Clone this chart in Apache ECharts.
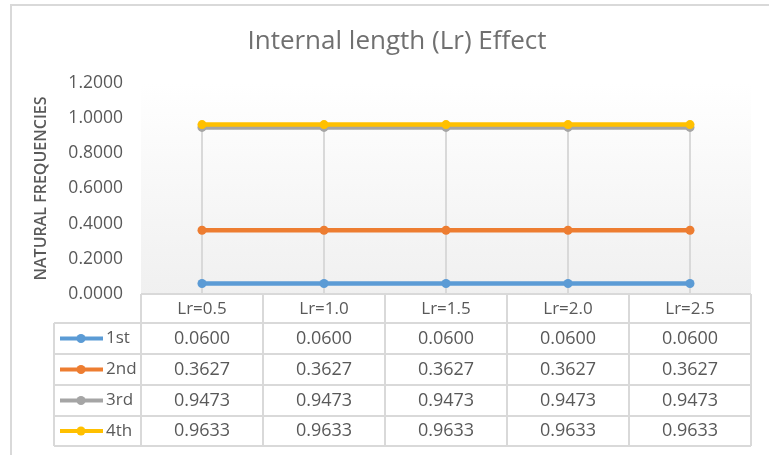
<!DOCTYPE html>
<html><head><meta charset="utf-8">
<script src="https://cdn.jsdelivr.net/npm/echarts@6/dist/echarts.min.js"></script>
<style>html,body{margin:0;padding:0;background:#fff}#c{width:769px;height:455px}</style>
</head><body><div id="c"></div>
<script>
const categories = ['Lr=0.5', 'Lr=1.0', 'Lr=1.5', 'Lr=2.0', 'Lr=2.5'];
const seriesNames = ['1st', '2nd', '3rd', '4th'];
const s1st = [0.0600, 0.0600, 0.0600, 0.0600, 0.0600];
const s2nd = [0.3627, 0.3627, 0.3627, 0.3627, 0.3627];
const s3rd = [0.9473, 0.9473, 0.9473, 0.9473, 0.9473];
const s4th = [0.9633, 0.9633, 0.9633, 0.9633, 0.9633];
const yMin = 0, yMax = 1.2, yStep = 0.2;
const titleText = 'Internal length (Lr) Effect';
const yName = 'NATURAL FREQUENCIES';

const allSeries = [s1st, s2nd, s3rd, s4th];
const colors = ['#5B9BD5', '#ED7D31', '#A5A5A5', '#FFC000'];
const txt = '#595959';
const gridCol = '#d9d9d9';
const FONT = 'Open Sans';
const dropTop = categories.map((c, i) => Math.max(...allSeries.map(s => s[i])));

const chart = echarts.init(document.getElementById('c'), null, {renderer: 'canvas'});
const option = {
  animation: false,
  backgroundColor: '#fff',
  title: {
    text: titleText, left: 392, top: 24, textAlign: 'center',
    textStyle: {fontFamily: FONT, fontSize: 26, fontWeight: 'normal', color: '#707070'}
  },
  grid: {
    left: 141, right: 18, top: 83, bottom: 161, show: true, borderWidth: 0,
    backgroundColor: new echarts.graphic.LinearGradient(0, 0, 0, 1, [
      {offset: 0, color: '#ffffff'}, {offset: 1, color: '#f0f0f0'}])
  },
  xAxis: {
    type: 'category', data: categories, boundaryGap: true,
    axisLine: {show: false}, axisTick: {show: false}, splitLine: {show: false},
    axisLabel: {margin: 15, verticalAlign: 'middle', fontFamily: FONT, fontSize: 17, color: txt}
  },
  yAxis: {
    type: 'value', min: yMin, max: yMax, interval: yStep,
    name: yName, nameLocation: 'middle', nameGap: 92, nameRotate: 90,
    nameTextStyle: {fontFamily: FONT, fontSize: 16, fontWeight: 600, color: txt},
    axisLine: {show: false}, axisTick: {show: false}, splitLine: {show: false},
    axisLabel: {margin: 18, fontFamily: FONT, fontSize: 17.5, color: txt,
      formatter: v => v.toFixed(4)}
  },
  series: [
    {type: 'bar', data: dropTop, barWidth: 2, silent: true, z: 1,
      itemStyle: {color: gridCol}}
  ].concat(allSeries.map((s, k) => ({
    type: 'line', name: seriesNames[k], data: s, z: 2 + k,
    symbol: 'circle', symbolSize: 9, showSymbol: true,
    lineStyle: {width: 4.5, color: colors[k]},
    itemStyle: {color: colors[k]}
  })))
};
chart.setOption(option);

// Data table
const x0 = chart.convertToPixel({xAxisIndex: 0}, 0);
const x1 = chart.convertToPixel({xAxisIndex: 0}, 1);
const band = x1 - x0;
const left = x0 - band / 2;
const right = left + band * categories.length;
const yTop = chart.convertToPixel({yAxisIndex: 0}, 0);
const rows = [yTop, yTop + 29, yTop + 60, yTop + 91, yTop + 122, yTop + 152];
const keyLeft = 54;
const g = [];
const line = (xa, ya, xb, yb) => g.push({type: 'line', shape: {x1: xa, y1: ya, x2: xb, y2: yb},
  style: {stroke: gridCol, lineWidth: 2}, z: 10});
line(left, rows[0], right, rows[0]);
for (let r = 1; r < rows.length; r++) line(keyLeft, rows[r], right, rows[r]);
line(keyLeft, rows[1], keyLeft, rows[5]);
for (let c = 0; c <= categories.length; c++) {
  const xx = left + band * c;
  line(xx, rows[0], xx, rows[5]);
}
allSeries.forEach((s, k) => {
  const cy = (rows[k + 1] + rows[k + 2]) / 2;
  s.forEach((v, i) => {
    g.push({type: 'text', x: chart.convertToPixel({xAxisIndex: 0}, i), y: cy, z: 11,
      style: {text: v.toFixed(4), fontFamily: FONT, fontSize: 18, fill: txt,
        align: 'center', verticalAlign: 'middle'}});
  });
  g.push({type: 'line', shape: {x1: 60, y1: cy, x2: 103, y2: cy},
    style: {stroke: colors[k], lineWidth: 4}, z: 11});
  g.push({type: 'circle', shape: {cx: 81, cy: cy, r: 4.5}, style: {fill: colors[k]}, z: 12});
  g.push({type: 'text', x: 106, y: cy, z: 11,
    style: {text: seriesNames[k], fontFamily: FONT, fontSize: 17, fill: txt,
      align: 'left', verticalAlign: 'middle'}});
});
g.push({type: 'rect', shape: {x: 11, y: 5, width: 800, height: 500},
  style: {fill: 'none', stroke: gridCol, lineWidth: 2}, z: 0, silent: true});
chart.setOption({graphic: g});
</script></body></html>
